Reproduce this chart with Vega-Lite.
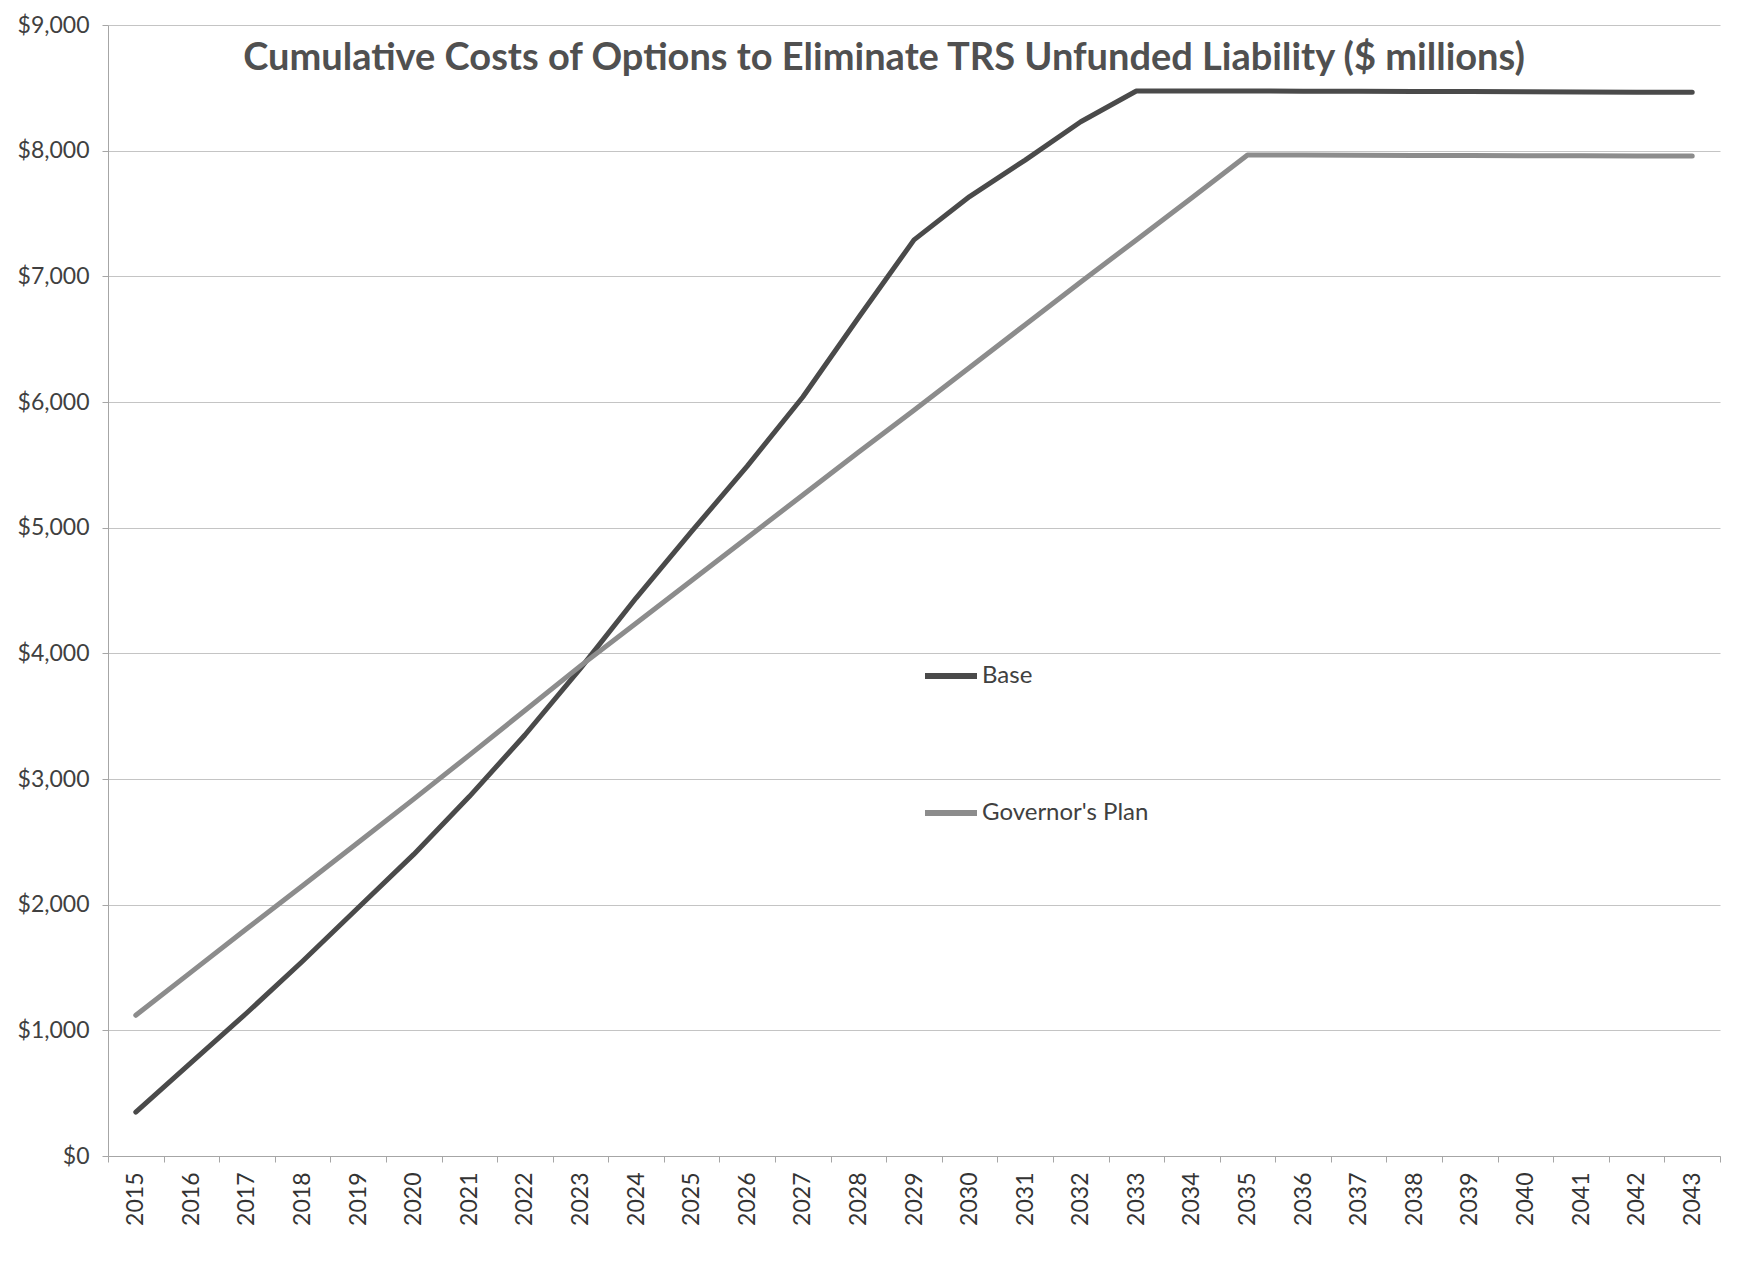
{
  "$schema": "https://vega.github.io/schema/vega-lite/v6.json",
  "width": 1612,
  "height": 1131,
  "autosize": "none",
  "padding": {"left": 108, "top": 25, "right": 44, "bottom": 124},
  "background": "white",
  "title": {
    "text": "Cumulative Costs of Options to Eliminate TRS Unfunded Liability ($ millions)",
    "font": "Lato",
    "fontSize": 38,
    "fontWeight": "bold",
    "color": "#505050",
    "anchor": "middle",
    "frame": "group",
    "baseline": "alphabetic",
    "offset": 0,
    "dx": -30,
    "dy": 94
  },
  "data": {
    "values": [
      {"year": "2015", "series": "Base", "value": 350},
      {"year": "2016", "series": "Base", "value": 745},
      {"year": "2017", "series": "Base", "value": 1140},
      {"year": "2018", "series": "Base", "value": 1550},
      {"year": "2019", "series": "Base", "value": 1975},
      {"year": "2020", "series": "Base", "value": 2400},
      {"year": "2021", "series": "Base", "value": 2860},
      {"year": "2022", "series": "Base", "value": 3350},
      {"year": "2023", "series": "Base", "value": 3880},
      {"year": "2024", "series": "Base", "value": 4440},
      {"year": "2025", "series": "Base", "value": 4970},
      {"year": "2026", "series": "Base", "value": 5490},
      {"year": "2027", "series": "Base", "value": 6040},
      {"year": "2028", "series": "Base", "value": 6670},
      {"year": "2029", "series": "Base", "value": 7290},
      {"year": "2030", "series": "Base", "value": 7635},
      {"year": "2031", "series": "Base", "value": 7925},
      {"year": "2032", "series": "Base", "value": 8230},
      {"year": "2033", "series": "Base", "value": 8475},
      {"year": "2034", "series": "Base", "value": 8475},
      {"year": "2035", "series": "Base", "value": 8475},
      {"year": "2036", "series": "Base", "value": 8473},
      {"year": "2037", "series": "Base", "value": 8472},
      {"year": "2038", "series": "Base", "value": 8470},
      {"year": "2039", "series": "Base", "value": 8470},
      {"year": "2040", "series": "Base", "value": 8468},
      {"year": "2041", "series": "Base", "value": 8467},
      {"year": "2042", "series": "Base", "value": 8465},
      {"year": "2043", "series": "Base", "value": 8465},
      {"year": "2015", "series": "Governor's Plan", "value": 1120},
      {"year": "2016", "series": "Governor's Plan", "value": 1465},
      {"year": "2017", "series": "Governor's Plan", "value": 1810},
      {"year": "2018", "series": "Governor's Plan", "value": 2150},
      {"year": "2019", "series": "Governor's Plan", "value": 2495},
      {"year": "2020", "series": "Governor's Plan", "value": 2840},
      {"year": "2021", "series": "Governor's Plan", "value": 3190},
      {"year": "2022", "series": "Governor's Plan", "value": 3545},
      {"year": "2023", "series": "Governor's Plan", "value": 3900},
      {"year": "2024", "series": "Governor's Plan", "value": 4240},
      {"year": "2025", "series": "Governor's Plan", "value": 4580},
      {"year": "2026", "series": "Governor's Plan", "value": 4920},
      {"year": "2027", "series": "Governor's Plan", "value": 5260},
      {"year": "2028", "series": "Governor's Plan", "value": 5600},
      {"year": "2029", "series": "Governor's Plan", "value": 5935},
      {"year": "2030", "series": "Governor's Plan", "value": 6275},
      {"year": "2031", "series": "Governor's Plan", "value": 6615},
      {"year": "2032", "series": "Governor's Plan", "value": 6955},
      {"year": "2033", "series": "Governor's Plan", "value": 7290},
      {"year": "2034", "series": "Governor's Plan", "value": 7625},
      {"year": "2035", "series": "Governor's Plan", "value": 7965},
      {"year": "2036", "series": "Governor's Plan", "value": 7965},
      {"year": "2037", "series": "Governor's Plan", "value": 7963},
      {"year": "2038", "series": "Governor's Plan", "value": 7962},
      {"year": "2039", "series": "Governor's Plan", "value": 7962},
      {"year": "2040", "series": "Governor's Plan", "value": 7960},
      {"year": "2041", "series": "Governor's Plan", "value": 7960},
      {"year": "2042", "series": "Governor's Plan", "value": 7958},
      {"year": "2043", "series": "Governor's Plan", "value": 7958}
    ]
  },
  "mark": {"type": "line", "strokeWidth": 5, "strokeCap": "round", "strokeJoin": "round"},
  "encoding": {
    "x": {
      "field": "year",
      "type": "ordinal",
      "scale": {"type": "band", "paddingInner": 0, "paddingOuter": 0},
      "axis": {
        "title": null,
        "labelAngle": 270,
        "labelFont": "Lato",
        "labelFontSize": 23,
        "labelColor": "#333333",
        "labelPadding": 10,
        "tickBand": "extent",
        "tickSize": 6,
        "grid": false
      }
    },
    "y": {
      "field": "value",
      "type": "quantitative",
      "scale": {"domain": [0, 9000], "nice": false, "zero": true},
      "axis": {
        "title": null,
        "values": [0, 1000, 2000, 3000, 4000, 5000, 6000, 7000, 8000, 9000],
        "format": "$,.0f",
        "labelFont": "Lato",
        "labelFontSize": 23,
        "labelColor": "#404040",
        "labelPadding": 13,
        "tickSize": 6,
        "grid": true
      }
    },
    "color": {
      "field": "series",
      "type": "nominal",
      "scale": {"domain": ["Base", "Governor's Plan"], "range": ["#4a4a4a", "#8c8c8c"]},
      "legend": {
        "title": null,
        "orient": "none",
        "legendX": 814,
        "legendY": 622,
        "symbolType": "stroke",
        "symbolSize": 2704,
        "symbolStrokeWidth": 6,
        "labelFont": "Lato",
        "labelFontSize": 24,
        "labelColor": "#404040",
        "labelOffset": 2,
        "labelLimit": 0,
        "rowPadding": 96,
        "padding": 0
      }
    }
  },
  "config": {
    "view": {"stroke": null},
    "axis": {
      "gridColor": "#c4c4c4",
      "gridWidth": 1,
      "domainColor": "#a6a6a6",
      "tickColor": "#a6a6a6"
    }
  }
}
